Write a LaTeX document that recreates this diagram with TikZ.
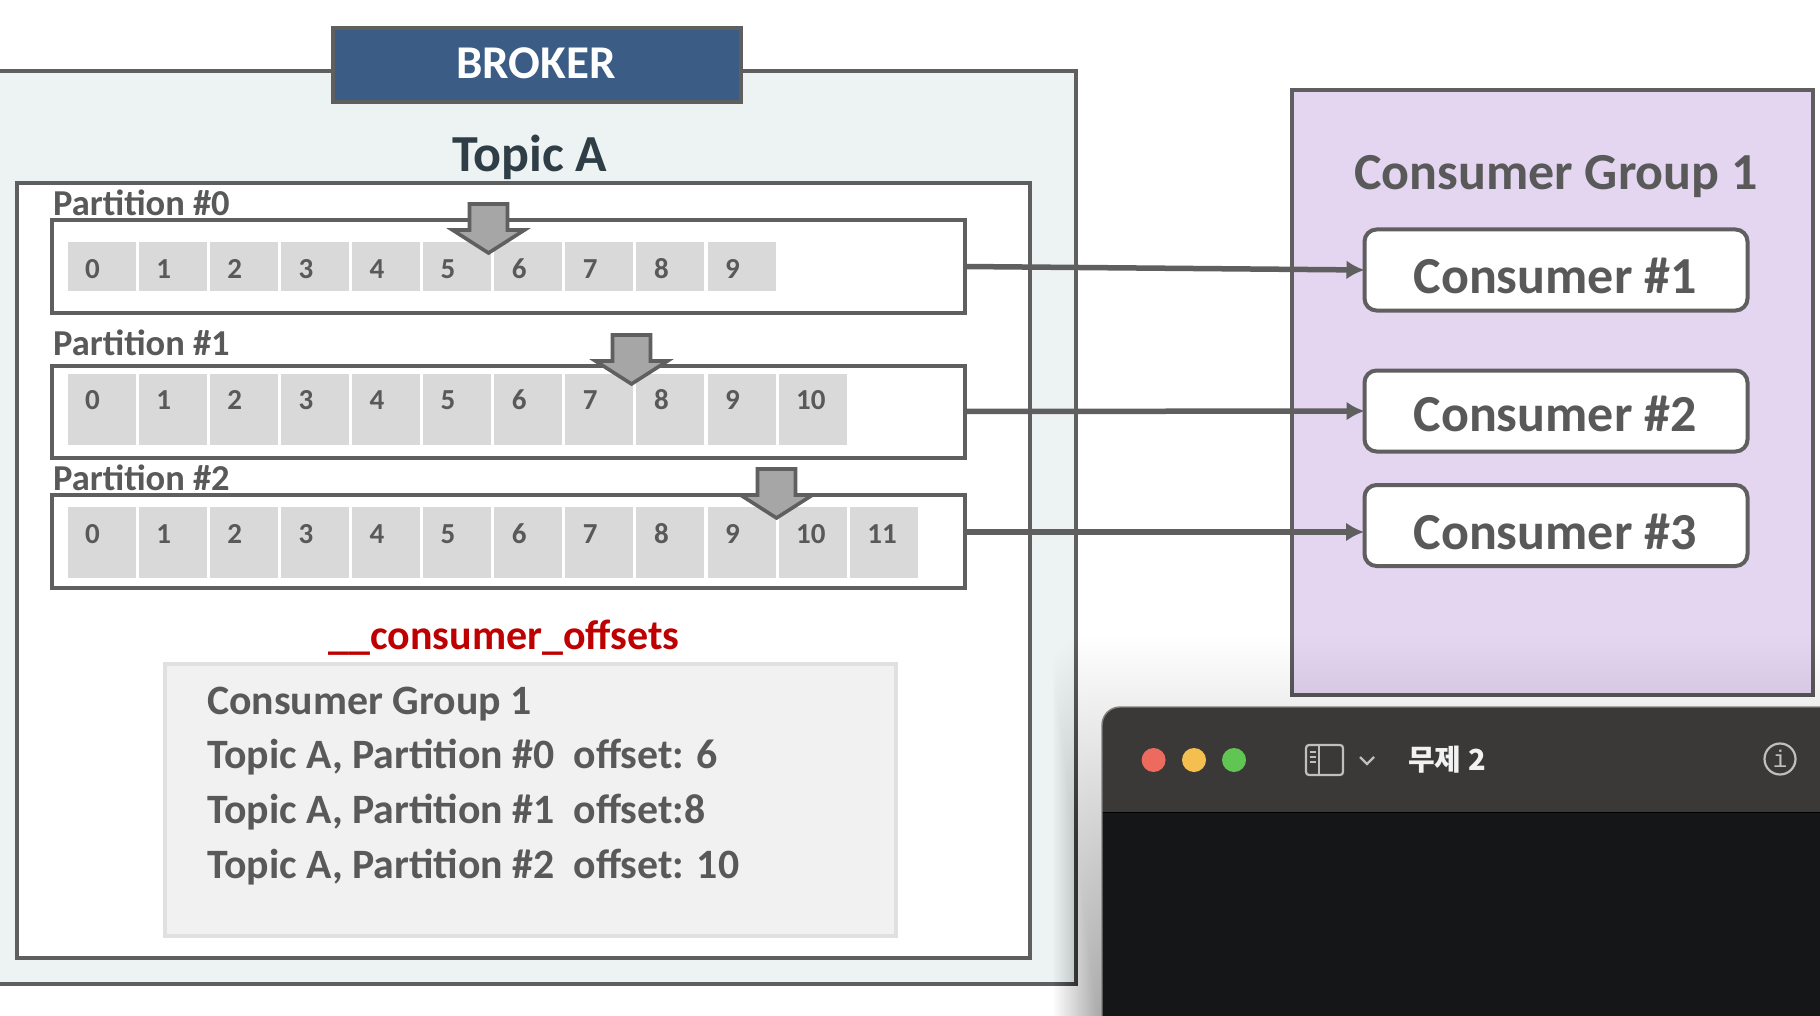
\documentclass[tikz,border=0pt]{standalone}
\usepackage{fontspec}
\setmainfont{Carlito}
\newfontfamily\cjkfont{Noto Sans CJK KR}
\newfontfamily\iconfont{Liberation Mono}
\definecolor{linegray}{HTML}{5F5F5F}
\definecolor{textgray}{HTML}{595959}
\definecolor{brokerfill}{HTML}{EDF3F3}
\definecolor{brokerblue}{HTML}{3B5C85}
\definecolor{topicdark}{HTML}{2F3E46}
\definecolor{groupfill}{HTML}{E4D5F0}
\definecolor{cellfill}{HTML}{D9D9D9}
\definecolor{offsetfill}{HTML}{F1F1F1}
\definecolor{offsetline}{HTML}{E0E0E0}
\definecolor{barfill}{HTML}{3A3937}
\definecolor{bodyfill}{HTML}{151618}
\tikzset{
  box/.style={draw=linegray,line width=4pt,outer sep=0pt,inner sep=0pt},
  partbox/.style={box,fill=white},
  cellbox/.style={fill=cellfill,anchor=west,outer sep=0pt,inner sep=0pt,minimum width=68pt},
  digit/.style={anchor=west,inner sep=0pt,text=textgray,font=\bfseries\fontsize{29}{30}\selectfont},
  partlabel/.style={anchor=base west,inner sep=0pt,text=textgray,font=\bfseries\fontsize{36.5}{38}\selectfont},
  offsetline/.style={anchor=base west,inner sep=0pt,text=textgray,font=\bfseries\fontsize{41.8}{44}\selectfont},
  consumer/.style={partbox,rounded corners=12pt,minimum width=383pt,minimum height=81pt},
  consumerlabel/.style={anchor=base,inner sep=0pt,text=textgray,font=\bfseries\fontsize{52}{54}\selectfont},
  cursor/.style={draw=linegray,line width=3.6pt,fill=black!35,line join=miter},
  link/.style={draw=linegray,line width=5.5pt,-{Latex[length=18pt,width=19pt]}},
}
\usetikzlibrary{arrows.meta}
\begin{document}
\begin{tikzpicture}[x=1pt,y=1pt,yscale=-1,xscale=1]
\useasboundingbox (0,0) rectangle (1820,1016);
\clip (0,0) rectangle (1820,1016);

% Broker
\node (broker) [box,fill=brokerfill,minimum width=1081pt,minimum height=913pt] at (535.5,527.5) {};
\node (brokertitle) [box,fill=brokerblue,minimum width=408pt,minimum height=74pt] at (536.5,65.5) {};
\node (brokertext) [anchor=base,inner sep=0pt,text=white,font=\bfseries\fontsize{47}{49}\selectfont] at (536,79) {BROKER};
\node (topictitle) [anchor=base,inner sep=0pt,text=topicdark,font=\bfseries\fontsize{52}{54}\selectfont] at (530,171.5) {Topic A};
\node (topicbox) [partbox,minimum width=1013pt,minimum height=775pt] at (523.5,570.5) {};

% Partitions
\node (part0) [partbox,minimum width=913pt,minimum height=92pt] at (508.5,266.5) {};
\node (part1) [partbox,minimum width=913pt,minimum height=92pt] at (508.5,411.5) {};
\node (part2) [partbox,minimum width=913pt,minimum height=93pt] at (508.5,541) {};
\node (label0) [partlabel] at (53,216) {Partition \#0};
\node (label1) [partlabel] at (53,355.5) {Partition \#1};
\node (label2) [partlabel] at (53,490) {Partition \#2};

% Cells
\foreach \p/\last/\cy/\ch/\dy in {0/9/266.5/49/269,1/10/409.5/71/400,2/11/542.5/71/534}{
  \foreach \i in {0,...,\last}{
    \node (cell\p-\i) [cellbox,minimum height=\ch pt] at ({67.6+71.1*\i},\cy) {};
    \node (digit\p-\i) [digit] at ({85+71.1*\i},\dy) {\i};
  }
}

% Offset cursors
\foreach \ax/\ay in {488.5/204,631.5/335,776.5/469}{
  \draw [cursor] (\ax-19,\ay) -- (\ax+19,\ay) -- (\ax+19,\ay+26) -- (\ax+36,\ay+26)
    -- (\ax,\ay+49) -- (\ax-36,\ay+26) -- (\ax-19,\ay+26) -- cycle;
}

% Offsets
\node (offsettitle) [anchor=base,inner sep=0pt,text=red!75!black,font=\bfseries\fontsize{42}{44}\selectfont] at (504,649) {\_\_consumer\_offsets};
\node (offsetbox) [draw=offsetline,line width=4pt,fill=offsetfill,outer sep=0pt,minimum width=731pt,minimum height=272pt] at (530.5,800) {};
\node (offset0) [offsetline] at (207,714) {Consumer Group 1};
\node (offset1) [offsetline] at (207,768.5) {Topic A, Partition \#0\ \ offset: 6};
\node (offset2) [offsetline] at (207,823.5) {Topic A, Partition \#1\ \ offset:8};
\node (offset3) [offsetline] at (207,878.5) {Topic A, Partition \#2\ \ offset: 10};

% Consumer group
\node (group) [box,fill=groupfill,minimum width=521pt,minimum height=605pt] at (1552.25,392.5) {};
\node (grouptitle) [consumerlabel] at (1556,190) {Consumer Group 1};
\node (consumer1) [consumer] at (1556,270) {};
\node (consumer2) [consumer] at (1556,411) {};
\node (consumer3) [consumer] at (1556,525.5) {};
\node (consumer1text) [consumerlabel] at (1555,293.5) {Consumer \#1};
\node (consumer2text) [consumerlabel] at (1555,431.5) {Consumer \#2};
\node (consumer3text) [consumerlabel] at (1555,549) {Consumer \#3};

% Links
\draw [link] (part0.east) -- (consumer1.west);
\draw [link] (part1.east) -- (consumer2.west);
\coordinate (part2out) at (966,532);
\coordinate (consumer3in) at (1364,532);
\draw [link] (part2out) -- (consumer3in);

% Window shadow
\foreach \s in {1,...,90}{
  \fill [black,opacity=0.0055,rounded corners=30pt] (1102-0.55*\s,1025-4.3*\s) rectangle (1900,1100);
}

% Window
\fill [bodyfill,rounded corners=18pt] (1102,1100) -- (1102,707) -- (1900,707) -- (1900,1100) -- cycle;
\fill [barfill,rounded corners=18pt] (1102,812) -- (1102,707) -- (1900,707) -- (1900,812) -- cycle;
\fill [barfill] (1102,790) rectangle (1900,812);
\draw [black,line width=1pt] (1102,812) -- (1900,812);
\draw [black!50,line width=1.4pt,rounded corners=18pt] (1102,1100) -- (1102,707) -- (1900,707);
\foreach \lx/\lc in {1153.6/EC6A5E,1194/F5BF4F,1234/61C554}{
  \definecolor{lightcolor}{HTML}{\lc}
  \fill [lightcolor] (\lx,760) circle [radius=12];
}
\draw [black!25,line width=2.2pt,rounded corners=3pt] (1306,745) rectangle (1343,775);
\draw [black!25,line width=2.2pt] (1319,745) -- (1319,775);
\foreach \ly in {752,757,762}{
  \draw [black!25,line width=1.8pt] (1309.5,\ly) -- (1315.5,\ly);
}
\draw [black!25,line width=2.4pt] (1360,757) -- (1367,764) -- (1374,757);
\node (windowtitle) [inner sep=0pt,text=black!5,font=\cjkfont\bfseries\fontsize{29}{30}\selectfont] at (1447,760) {무제 2};
\node (infoicon) [circle,draw=black!25,line width=2.2pt,minimum size=31pt,inner sep=0pt,text=black!25,font=\iconfont\fontsize{24}{24}\selectfont] at (1780,759) {i};

\end{tikzpicture}
\end{document}
